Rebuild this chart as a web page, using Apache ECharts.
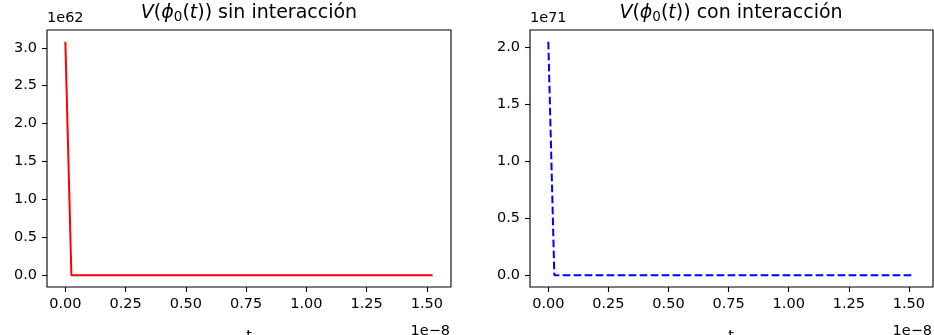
<!DOCTYPE html>
<html>
<head>
<meta charset="utf-8">
<script src="https://cdn.jsdelivr.net/npm/echarts@6/dist/echarts.min.js"></script>
<style>
  html, body { margin: 0; padding: 0; background: #fff; }
  #chart { width: 934px; height: 335px; }
</style>
</head>
<body>
<div id="chart"></div>
<script>
// Potential V(phi_0(t)) over time, without and with interaction.
// t is in units of 1e-8; V is in units of 1e62 (left) and 1e71 (right).
const tSin = [0, 0.025, 1.524];
const vSin = [3.08, 0, 0];
const tCon = [0, 0.025, 1.524];
const vCon = [2.05, 0, 0];

const xTicks = [0, 0.25, 0.5, 0.75, 1.0, 1.25, 1.5];
const ySinTicks = [0, 0.5, 1.0, 1.5, 2.0, 2.5, 3.0];
const yConTicks = [0, 0.5, 1.0, 1.5, 2.0];

const FONT = 'DejaVu Sans';
const TICK_FS = 14.5;

// matplotlib-style 5% margins around the data range
function padRange(arr) {
  const lo = Math.min(...arr), hi = Math.max(...arr);
  const d = hi - lo;
  return [lo - 0.05 * d, hi + 0.05 * d];
}

const grids = [
  { left: 47, top: 30, width: 404, height: 257 },
  { left: 530, top: 30, width: 403, height: 257 }
];

function xAxisFor(idx, tArr) {
  const [mn, mx] = padRange(tArr);
  return {
    type: 'value', gridIndex: idx, min: mn, max: mx, position: 'bottom',
    axisLine: { show: false, onZero: false },
    splitLine: { show: false },
    axisTick: { show: true, inside: false, length: 5, lineStyle: { color: '#000', width: 1.1 }, customValues: xTicks },
    axisLabel: {
      show: true, customValues: xTicks, margin: 10,
      fontFamily: FONT, fontSize: TICK_FS, color: '#000',
      formatter: v => v.toFixed(2)
    }
  };
}

function yAxisFor(idx, vArr, ticks) {
  const [mn, mx] = padRange(vArr);
  return {
    type: 'value', gridIndex: idx, min: mn, max: mx, position: 'left',
    axisLine: { show: false, onZero: false },
    splitLine: { show: false },
    axisTick: { show: true, inside: false, length: 5, lineStyle: { color: '#000', width: 1.1 }, customValues: ticks },
    axisLabel: {
      show: true, customValues: ticks, margin: 10,
      fontFamily: FONT, fontSize: TICK_FS, color: '#000',
      formatter: v => v.toFixed(1)
    }
  };
}

// title with italic math symbols and a lowered subscript
function titleEl(cx, suffix) {
  return {
    type: 'text', x: cx, y: 13, silent: true,
    style: {
      text: '{i|V}({i|ϕ}{s|0}({i|t})) ' + suffix,
      rich: {
        i: { fontFamily: FONT, fontStyle: 'italic', fontSize: 19, lineHeight: 22 },
        s: { fontFamily: FONT, fontSize: 13.5, lineHeight: 15, verticalAlign: 'bottom' }
      },
      fontFamily: FONT, fontSize: 19, lineHeight: 22, fill: '#000',
      align: 'center', verticalAlign: 'middle'
    }
  };
}

function textEl(x, y, text, size, align) {
  return {
    type: 'text', x: x, y: y, silent: true,
    style: { text: text, fontFamily: FONT, fontSize: size, fill: '#000', align: align || 'left', verticalAlign: 'middle' }
  };
}

const chart = echarts.init(document.getElementById('chart'), null, { renderer: 'canvas' });

chart.setOption({
  animation: false,
  backgroundColor: '#fff',
  grid: grids.map(g => Object.assign({ show: true, borderColor: '#000', borderWidth: 1.1, backgroundColor: 'transparent' }, g)),
  xAxis: [xAxisFor(0, tSin), xAxisFor(1, tCon)],
  yAxis: [yAxisFor(0, vSin, ySinTicks), yAxisFor(1, vCon, yConTicks)],
  series: [
    {
      type: 'line', xAxisIndex: 0, yAxisIndex: 0, showSymbol: false, symbol: 'none',
      data: tSin.map((t, i) => [t, vSin[i]]),
      lineStyle: { color: '#ff0000', width: 2 }
    },
    {
      type: 'line', xAxisIndex: 1, yAxisIndex: 1, showSymbol: false, symbol: 'none',
      data: tCon.map((t, i) => [t, vCon[i]]),
      lineStyle: { color: '#0000ff', width: 2, type: [7.7, 3.3] }
    }
  ],
  graphic: [
    titleEl(249, 'sin interacción'),
    titleEl(731, 'con interacción'),
    textEl(47, 18, '1e62', TICK_FS),
    textEl(530, 18, '1e71', TICK_FS),
    textEl(249, 336, 't', TICK_FS, 'center'),
    textEl(731, 336, 't', TICK_FS, 'center'),
    textEl(450, 331, '1e\u22128', TICK_FS, 'right'),
    textEl(932, 331, '1e\u22128', TICK_FS, 'right')
  ]
});
</script>
</body>
</html>
